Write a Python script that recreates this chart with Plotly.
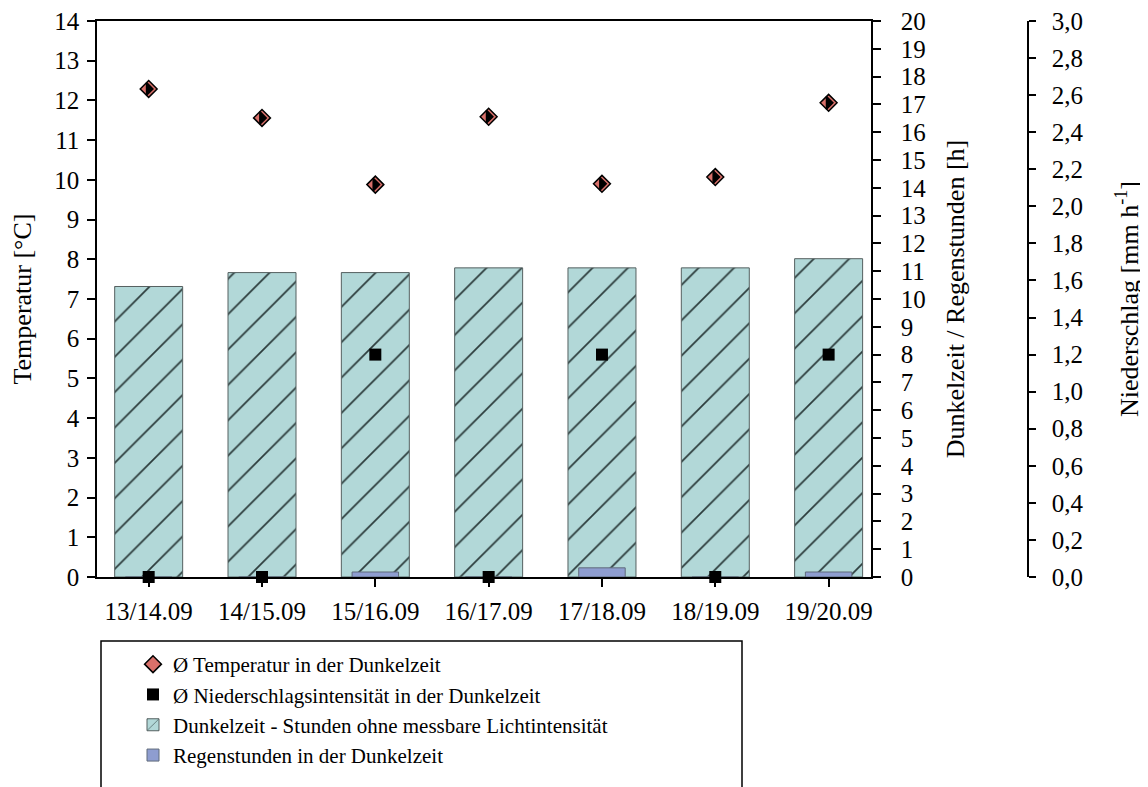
import plotly.graph_objects as go

categories = ["13/14.09", "14/15.09", "15/16.09", "16/17.09", "17/18.09", "18/19.09", "19/20.09"]
dunkel_h = [10.45, 10.95, 10.95, 11.12, 11.12, 11.12, 11.45]
regen_h = [0, 0, 0.18, 0, 0.33, 0, 0.18]
temp_c = [12.29, 11.56, 9.88, 11.59, 9.90, 10.07, 11.94]
precip_mm = [0, 0, 1.2, 0, 1.2, 0, 1.2]

FONT = "Liberation Serif, Times New Roman, Times, serif"
OFF = 8  # page body margin
W, H = 1148 - OFF, 787 - OFF
# reference pixel positions (page coords) converted to figure coords
L, R_EDGE, T, B = 97 - OFF, 1028 - OFF, 21 - OFF, 577 - OFF
X_END = 871 - OFF
plot_w = R_EDGE - L
plot_h = B - T
xdom = (X_END - L) / plot_w


def px_x(px):
    return (px - OFF - L) / plot_w


def px_y(py):
    return (B - (py - OFF)) / plot_h


TEAL = "#b2d8d8"

fig = go.Figure()

fig.add_trace(go.Bar(
    x=categories, y=dunkel_h, yaxis="y2", width=0.6,
    name="Dunkelzeit - Stunden ohne messbare Lichtintensität",
    marker=dict(color=TEAL, line=dict(color="#556060", width=1),
                pattern=dict(shape="/", fgcolor="#2c3c3c", bgcolor=TEAL, fillmode="replace",
                             size=25, solidity=0.07)),
    legendrank=3,
))
fig.add_trace(go.Bar(
    x=categories, y=regen_h, yaxis="y2", width=0.41,
    name="Regenstunden in der Dunkelzeit",
    marker=dict(color="#8e9dd0", line=dict(color="#5f6a7a", width=1)),
    legendrank=4,
))
fig.add_trace(go.Scatter(
    x=categories, y=temp_c, yaxis="y", mode="markers",
    name="Ø Temperatur in der Dunkelzeit",
    marker=dict(symbol="diamond", size=13, color="#d9706a",
                line=dict(color="black", width=1.5)),
    cliponaxis=False, legendrank=1,
))
# black right half of the diamond markers (same data)
fig.add_trace(go.Scatter(
    x=categories, y=temp_c, yaxis="y", mode="markers",
    name="Ø Temperatur in der Dunkelzeit", showlegend=False, hoverinfo="skip",
    marker=dict(symbol="triangle-ne", size=10, angle=45, color="black",
                line=dict(color="black", width=1.5)),
    cliponaxis=False,
))
fig.add_trace(go.Scatter(
    x=categories, y=precip_mm, yaxis="y3", mode="markers",
    name="Ø Niederschlagsintensität in der Dunkelzeit",
    marker=dict(symbol="square", size=12, color="black"),
    cliponaxis=False, legendrank=2,
))

tickfont = dict(family=FONT, size=25, color="black")
titlefont = dict(family=FONT, size=26, color="black")

fig.update_layout(
    template="none",
    width=W, height=H,
    margin=dict(l=L, r=W - R_EDGE, t=T, b=H - B, pad=0, autoexpand=False),
    paper_bgcolor="white", plot_bgcolor="white",
    barmode="overlay",
    separators=",.",
    font=dict(family=FONT, size=25, color="black"),
    showlegend=True,
    xaxis=dict(
        domain=[0, xdom], type="category", range=[-0.456, 6.374], automargin=False,
        showline=True, linecolor="black", linewidth=1.5, mirror=True,
        ticks="outside", ticklen=8, tickcolor="black", tickwidth=1.5,
        tickfont=tickfont, showgrid=False, zeroline=False, ticklabelstandoff=3,
        ticklabeloverflow="allow",
    ),
    yaxis=dict(
        range=[0, 14], dtick=1, automargin=False,
        showline=True, linecolor="black", linewidth=1.5,
        ticks="outside", ticklen=8, tickcolor="black", tickwidth=1.5,
        tickfont=tickfont, showgrid=False, zeroline=False, ticklabelstandoff=3,
        ticklabeloverflow="allow",
        title=dict(text="Temperatur [°C]", font=titlefont, standoff=16),
    ),
    yaxis2=dict(
        range=[0, 20], dtick=1, overlaying="y", side="right", anchor="x", automargin=False,
        showline=True, linecolor="black", linewidth=1.5,
        ticks="outside", ticklen=8, tickcolor="black", tickwidth=1.5,
        tickfont=tickfont, showgrid=False, zeroline=False, ticklabelstandoff=15,
        ticklabeloverflow="allow",
        title=dict(text="Dunkelzeit / Regenstunden [h]", font=titlefont, standoff=21),
    ),
    yaxis3=dict(
        range=[0, 3], dtick=0.2, tickformat=".1f", overlaying="y", side="right",
        anchor="free", position=1.0, automargin=False,
        showline=True, linecolor="black", linewidth=1.5,
        ticks="outside", ticklen=7, tickcolor="black", tickwidth=1.5,
        tickfont=tickfont, showgrid=False, zeroline=False, ticklabelstandoff=11,
        ticklabeloverflow="allow",
        title=dict(text="Niederschlag [mm h<sup>-1</sup>]", font=titlefont, standoff=36),
    ),
    legend=dict(
        x=px_x(133), y=px_y(644), xanchor="left", yanchor="top",
        bgcolor="rgba(0,0,0,0)", borderwidth=0,
        font=dict(family=FONT, size=21, color="black"),
    ),
    shapes=[dict(
        type="rect", xref="paper", yref="paper",
        x0=px_x(101), x1=px_x(742), y0=px_y(641), y1=px_y(800),
        line=dict(color="black", width=1.5), fillcolor="rgba(0,0,0,0)", layer="above",
    )],
)

fig.write_html("out.html")
